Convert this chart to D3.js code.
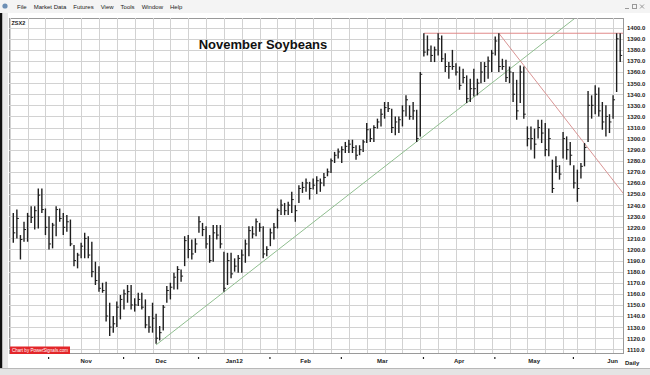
<!DOCTYPE html>
<html lang="en">
<head>
<meta charset="UTF-8">
<title>November Soybeans</title>
<script src="https://d3js.org/d3.v7.min.js"></script>
<style>
  body { margin: 0; background: #fff; font-family: Arial, "Liberation Sans", sans-serif; }
  svg { display: block; }
  .tiny { font-size: 6px; font-weight: bold; fill: #222; }
</style>
</head>
<body>
<div id="chart"></div>
<script>
// daily bars, Oct 2011 -> Jun 2012 (cents/bu)
const highs = [
  1233,1236,1213,1225,1233,1239,1239,1255,1255,1237,
  1230,1224,1239,1237,1233,1231,1227,1204,1197,1206,
  1215,1212,1207,1189,1185,1170,1171,1152,1140,1153,
  1159,1164,1168,1168,1156,1161,1161,1155,1140,1152,
  1142,1131,1150,1167,1170,1179,1185,1182,1212,1213,
  1209,1210,1230,1224,1221,1213,1222,1222,1222,1198,
  1197,1197,1192,1195,1200,1209,1221,1221,1228,1224,
  1221,1203,1219,1224,1237,1245,1242,1243,1252,1240,
  1258,1261,1264,1261,1264,1266,1264,1269,1273,1282,
  1288,1291,1293,1297,1299,1299,1294,1294,1299,1314,
  1309,1312,1318,1327,1333,1333,1327,1320,1320,1330,
  1339,1330,1333,1326,1360,1395,1393,1384,1383,1395,
  1393,1377,1369,1380,1368,1365,1363,1357,1354,1363,
  1354,1369,1369,1374,1380,1392,1395,1372,1371,1365,
  1360,1353,1366,1365,1311,1311,1309,1317,1317,1314,
  1309,1281,1284,1276,1306,1302,1297,1276,1272,1278,
  1296,1343,1339,1348,1346,1333,1330,1322,1339,1395,
  1395
];
const lows = [
  1206,1210,1191,1207,1207,1224,1218,1219,1233,1213,
  1200,1201,1212,1225,1213,1216,1203,1185,1183,1192,
  1192,1192,1175,1168,1162,1161,1135,1122,1125,1130,
  1137,1146,1152,1146,1144,1149,1146,1129,1125,1125,
  1115,1118,1127,1152,1155,1164,1164,1171,1185,1192,
  1191,1197,1215,1212,1201,1188,1189,1209,1201,1162,
  1168,1174,1180,1179,1179,1188,1194,1210,1212,1216,
  1192,1194,1203,1209,1219,1231,1231,1231,1233,1225,
  1242,1251,1252,1245,1254,1250,1252,1257,1266,1269,
  1278,1282,1278,1287,1287,1287,1281,1285,1288,1296,
  1297,1297,1309,1311,1318,1324,1305,1303,1305,1311,
  1320,1317,1317,1297,1302,1374,1375,1369,1369,1375,
  1369,1360,1354,1362,1357,1344,1350,1332,1333,1338,
  1339,1350,1351,1354,1360,1375,1360,1362,1351,1350,
  1333,1317,1332,1318,1293,1290,1282,1300,1296,1284,
  1284,1251,1269,1263,1282,1281,1276,1255,1243,1264,
  1275,1297,1318,1322,1320,1308,1302,1305,1318,1342,
  1369
];
const closes = [
  1215,1228,1209,1218,1230,1229,1235,1249,1236,1220,
  1205,1222,1236,1228,1220,1225,1205,1190,1195,1203,
  1210,1195,1180,1172,1165,1163,1140,1130,1133,1148,
  1155,1160,1162,1150,1150,1155,1148,1132,1130,1138,
  1120,1125,1148,1163,1166,1175,1182,1176,1208,1200,
  1196,1205,1225,1218,1205,1190,1215,1213,1205,1165,
  1190,1178,1185,1192,1195,1205,1217,1214,1225,1220,
  1196,1200,1215,1220,1235,1240,1235,1240,1245,1235,
  1255,1256,1260,1255,1258,1262,1260,1265,1270,1280,
  1285,1288,1290,1293,1295,1292,1285,1290,1297,1308,
  1300,1310,1315,1322,1328,1327,1310,1315,1317,1325,
  1335,1320,1325,1300,1358,1378,1380,1375,1380,1390,
  1372,1365,1365,1365,1360,1348,1355,1336,1345,1345,
  1350,1360,1365,1370,1377,1388,1365,1365,1355,1360,
  1340,1325,1360,1322,1300,1300,1295,1310,1305,1290,
  1300,1255,1275,1268,1300,1290,1285,1260,1255,1275,
  1292,1330,1330,1340,1325,1315,1320,1315,1335,1390,
  1375
];

const monthLabels = ["Nov", "Dec", "Jan12", "Feb", "Mar", "Apr", "May", "Jun"];
const monthStart = [10, 31, 52, 72, 92, 115, 135, 157];   // bar index of first day
const weekStart = [-1,4,9,14,19,24,29,34,39,44,49,54,59,64,69,74,79,84,89,94,99,
  104,109,114,119,124,129,134,139,144,149,154,158,163,168];
const priceTicks = [1110,1120,1130,1140,1150,1160,1170,1180,1190,1200,1210,1220,1230,1240,1250,
  1260,1270,1280,1290,1300,1310,1320,1330,1340,1350,1360,1370,1380,1390,1400];
const menuItems = ["File", "Market Data", "Futures", "View", "Tools", "Window", "Help"];

// trend lines drawn on the chart: [barIndex, price]
const upTrend = [[40, 1114], [157.5, 1409]];
const topLine = [[115, 1395], [171, 1395]];
const downTrend = [[136, 1395], [171, 1250]];

const W = 650, H = 375;
const plot = { left: 9, right: 623, top: 18, bottom: 353 };

const svg = d3.select("#chart").append("svg")
  .attr("width", W).attr("height", H);

const x = d3.scaleLinear().domain([0, highs.length - 1]).range([13.3, 620.2]);
const y = d3.scaleLinear().domain([1110, 1400]).range([349.3, 27.7]);

// window chrome
svg.append("rect").attr("x", 0).attr("y", 0).attr("width", W).attr("height", 13).attr("fill", "#f4f4f4");
svg.append("circle").attr("cx", 5).attr("cy", 6).attr("r", 2.6).attr("fill", "#6d8fb5");
let mx = 17;
menuItems.forEach(m => {
  const t = svg.append("text").attr("class", "tiny").attr("x", mx).attr("y", 8.5)
    .style("font-weight", "normal").attr("fill", "#333").text(m);
  mx += t.node().getComputedTextLength() + 7;
});
// min / max / close buttons
const btn = svg.append("g").attr("stroke", "#999").attr("stroke-width", 1);
btn.append("line").attr("x1", 625).attr("x2", 629).attr("y1", 8.5).attr("y2", 8.5);
btn.append("rect").attr("x", 632.5).attr("y", 4.5).attr("width", 4).attr("height", 4).attr("fill", "none");
btn.append("path").attr("d", "M640,4.5L644,8.5M644,4.5L640,8.5");
svg.append("rect").attr("x", 0).attr("y", 13).attr("width", 2.5).attr("height", H - 13).attr("fill", "#111");
svg.append("rect").attr("x", 2.5).attr("y", 13).attr("width", 5.5).attr("height", H - 13).attr("fill", "#e9e9e9");
svg.append("rect").attr("x", 0).attr("y", 368).attr("width", W).attr("height", 7).attr("fill", "#e4e4e4");
svg.append("line").attr("x1", 0).attr("x2", W).attr("y1", 368.5).attr("y2", 368.5).attr("stroke", "#b8b8b8");

// plot frame + grid
const g = svg.append("g");
g.append("rect").attr("x", plot.left + 0.5).attr("y", plot.top + 0.5)
  .attr("width", plot.right - plot.left).attr("height", plot.bottom - plot.top)
  .attr("fill", "#fff").attr("stroke", "#9a9a9a");

g.selectAll(".hgrid").data(priceTicks).join("line")
  .attr("x1", plot.left).attr("x2", plot.right)
  .attr("y1", d => Math.round(y(d)) + 0.5).attr("y2", d => Math.round(y(d)) + 0.5)
  .attr("stroke", "#d2d2d2");

g.selectAll(".vgrid").data(weekStart).join("line")
  .attr("x1", d => Math.round(x(d)) + 0.5).attr("x2", d => Math.round(x(d)) + 0.5)
  .attr("y1", plot.top).attr("y2", plot.bottom)
  .attr("stroke", "#d2d2d2");

svg.append("clipPath").attr("id", "clip").append("rect")
  .attr("x", plot.left + 1).attr("y", plot.top + 1)
  .attr("width", plot.right - plot.left - 1).attr("height", plot.bottom - plot.top - 1);

const inner = svg.append("g").attr("clip-path", "url(#clip)");

// trend lines
const line = d3.line().x(d => x(d[0])).y(d => y(d[1]));
inner.append("path").attr("d", line(upTrend)).attr("fill", "none").attr("stroke", "#8fbe8f").attr("stroke-width", 1);
inner.append("path").attr("d", line(topLine)).attr("fill", "none").attr("stroke", "#e08a8a").attr("stroke-width", 1);
inner.append("path").attr("d", line(downTrend)).attr("fill", "none").attr("stroke", "#d99494").attr("stroke-width", 1);

// HLC bars
const bars = highs.map((h, i) => ({ i, h, l: lows[i], c: closes[i] }));
const barG = inner.append("g").attr("stroke", "#1e1e1e").attr("stroke-width", 1.4);
barG.selectAll(".hl").data(bars).join("line")
  .attr("x1", d => x(d.i)).attr("x2", d => x(d.i))
  .attr("y1", d => y(d.h)).attr("y2", d => y(d.l));
barG.selectAll(".cl").data(bars).join("line")
  .attr("stroke-width", 1)
  .attr("x1", d => x(d.i)).attr("x2", d => x(d.i) + 2)
  .attr("y1", d => y(d.c)).attr("y2", d => y(d.c));

// price axis on the right
const yAxis = svg.append("g").attr("transform", `translate(${plot.right + 2},0)`)
  .call(d3.axisRight(y).tickValues(priceTicks).tickSize(0).tickPadding(2).tickFormat(d3.format(".1f")));
yAxis.select(".domain").remove();
yAxis.selectAll("text").attr("class", "tiny").attr("fill", "#222").style("font-family", "Arial, sans-serif");

// month ticks and labels
const monthTicks = monthStart.map(d => d - 0.25);
const tickAxis = svg.append("g").attr("transform", `translate(0,${plot.bottom + 4})`)
  .call(d3.axisBottom(x).tickValues(monthTicks).tickSize(2).tickFormat(""));
tickAxis.select(".domain").remove();
tickAxis.selectAll("line").attr("stroke", "#222").attr("stroke-width", 1.2);

const labelPos = monthTicks.map((d, k) => k < monthTicks.length - 1 ? (d + monthTicks[k + 1]) / 2 : d + 11);
const labAxis = svg.append("g").attr("transform", `translate(0,${plot.bottom + 5})`)
  .call(d3.axisBottom(x).tickValues(labelPos).tickSize(0).tickPadding(1).tickFormat((d, k) => monthLabels[k]));
labAxis.select(".domain").remove();
labAxis.selectAll("text").attr("class", "tiny").attr("fill", "#222").style("font-family", "Arial, sans-serif");

svg.append("text").attr("class", "tiny").attr("x", 625).attr("y", 365).text("Daily");

// captions
svg.append("text").attr("x", 263).attr("y", 49).attr("text-anchor", "middle")
  .style("font-size", "13px").style("font-weight", "bold").attr("fill", "#111")
  .text("November Soybeans");
svg.append("text").attr("class", "tiny").attr("x", 11.5).attr("y", 24.5).style("font-size", "5.5px").text("ZSX2");

svg.append("rect").attr("x", 10).attr("y", 346.5).attr("width", 60).attr("height", 7.5).attr("fill", "#e3262a");
svg.append("text").attr("x", 12).attr("y", 352.3).style("font-size", "5px").attr("fill", "#fff")
  .attr("textLength", 56).attr("lengthAdjust", "spacingAndGlyphs")
  .text("Chart by PowerSignals.com");
</script>
</body>
</html>
